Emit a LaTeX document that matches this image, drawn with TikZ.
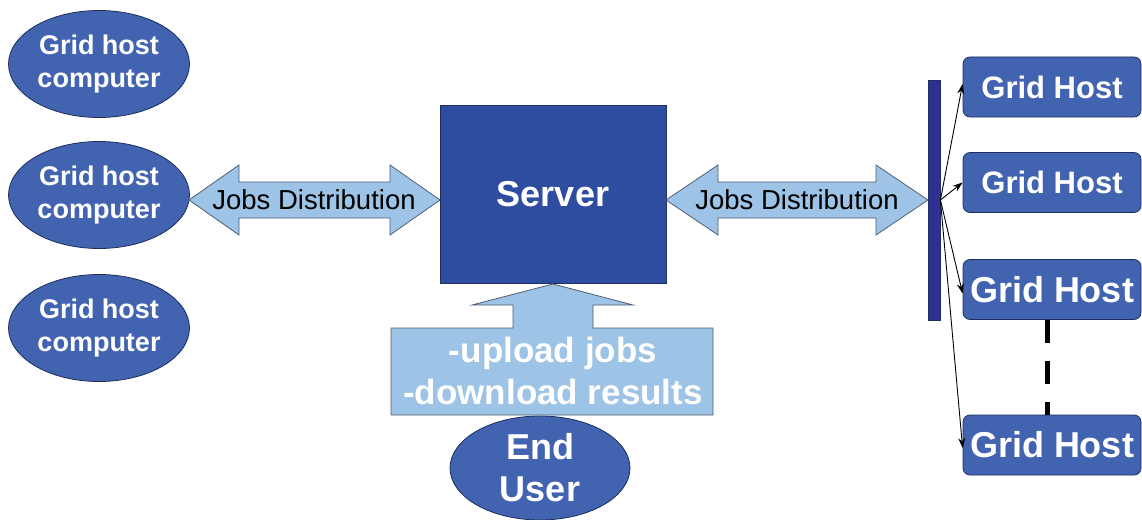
\documentclass[tikz,border=0pt]{standalone}
\usepackage{fontspec}
\setmainfont{Liberation Sans}
\usetikzlibrary{shapes.geometric,arrows.meta}
\definecolor{hostblue}{HTML}{4263AF}
\definecolor{serverblue}{HTML}{2E4DA0}
\definecolor{barblue}{HTML}{2E3192}
\definecolor{flowblue}{HTML}{9DC3E6}
\definecolor{edgedark}{HTML}{1F2F5F}
\definecolor{flowedge}{HTML}{4F5F70}
\tikzset{
  hostell/.style={ellipse, draw=edgedark, line width=0.8pt, fill=hostblue,
    text=white, font=\bfseries\fontsize{27}{33}\selectfont, align=center,
    minimum width=181pt, minimum height=107pt, inner sep=0pt},
  hostbox/.style={rectangle, rounded corners=7pt, draw=edgedark, line width=0.8pt,
    fill=hostblue, text=white, font=\bfseries\fontsize{31}{36}\selectfont,
    minimum width=178pt, minimum height=60pt, inner sep=0pt},
  bighostbox/.style={hostbox, font=\bfseries\fontsize{36}{40}\selectfont},
  serverbox/.style={rectangle, draw=edgedark, line width=0.8pt, fill=serverblue,
    text=white, font=\bfseries\fontsize{36}{40}\selectfont,
    minimum width=226pt, minimum height=178pt, inner sep=0pt},
  busbar/.style={rectangle, draw=edgedark, line width=0.8pt, fill=barblue,
    minimum width=12pt, minimum height=240pt, inner sep=0pt},
  flowshape/.style={draw=flowedge, line width=0.8pt, fill=flowblue},
  flowlabel/.style={font=\fontsize{27.5}{30}\selectfont, text=black, inner sep=0pt},
  uplabel/.style={font=\bfseries\fontsize{35}{42}\selectfont, text=white,
    align=center, inner sep=0pt},
  fanarrow/.style={-{Stealth[length=10pt,width=7pt]}, line width=0.9pt, black},
}
\begin{document}
\begin{tikzpicture}[x=1pt,y=-1pt]
\useasboundingbox (0,0) rectangle (1142,519);

% left-hand hosts
\node[hostell] (gh1) at (99,64) {Grid host\\computer};
\node[hostell] (gh2) at (99,195) {Grid host\\computer};
\node[hostell] (gh3) at (99,328) {Grid host\\computer};

% server and end user
\node[serverbox] (server) at (553,194) {Server};
\node[hostell, font=\bfseries\fontsize{36}{42}\selectfont,
      minimum width=180pt, minimum height=104pt] (user) at (540,468) {End\\User};

% distribution bar and right-hand hosts
\node[busbar] (bar) at (934,200) {};
\node[hostbox] (h1) at (1052,87) {Grid Host};
\node[hostbox] (h2) at (1052,182.5) {Grid Host};
\node[bighostbox] (h3) at (1052,289.5) {Grid Host};
\node[bighostbox] (h4) at (1052,445) {Grid Host};

% double-headed "Jobs Distribution" arrows
\draw[flowshape] (189,200) -- (239,165) -- (239,182) -- (390,182) -- (390,165)
  -- (440,200) -- (390,235) -- (390,218) -- (239,218) -- (239,235) -- cycle;
\node[flowlabel] (jl) at (314,200) {Jobs Distribution};
\draw[flowshape] (666,200) -- (718,165) -- (718,182) -- (876,182) -- (876,165)
  -- (928,200) -- (876,235) -- (876,218) -- (718,218) -- (718,235) -- cycle;
\node[flowlabel] (jr) at (797,200) {Jobs Distribution};

% upload/download arrow from the user to the server
\draw[flowshape] (391,415) -- (391,328) -- (513,328) -- (513,305) -- (472,305)
  -- (553,284) -- (633,305) -- (593,305) -- (593,328) -- (713,328)
  -- (713,415) -- cycle;
\node[uplabel] (up) at (553,371) {-upload jobs\\-download results};

% fan-out from the bar to the hosts
\coordinate (fan) at (bar.east);
\draw[fanarrow] (fan) -- ([yshift=3pt]h1.west);
\draw[fanarrow] (fan) -- (h2.west);
\draw[fanarrow] (fan) -- ([yshift=-4pt]h3.west);
\draw[fanarrow] (fan) -- ([yshift=-3pt]h4.west);

% ellipsis between the last two hosts
\draw[line width=5pt, dash pattern=on 23pt off 18pt]
  ([xshift=-5pt]h3.south) -- ([xshift=-5pt]h4.north);
\end{tikzpicture}
\end{document}
